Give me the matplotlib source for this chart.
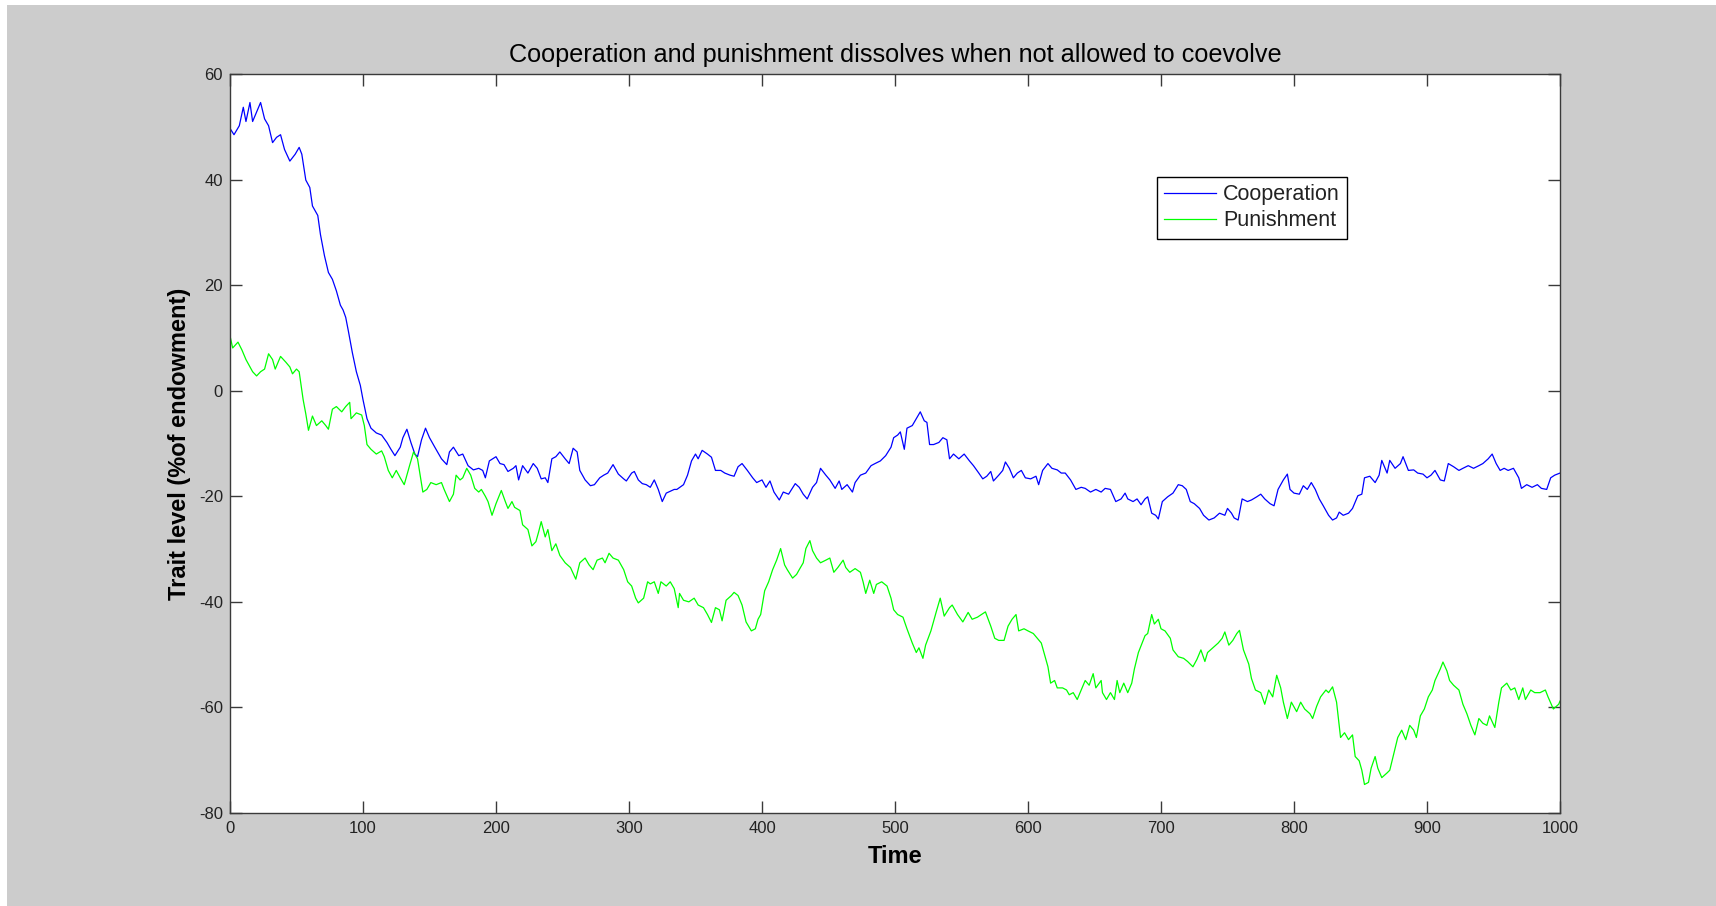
import matplotlib
matplotlib.use("Agg")
import matplotlib.pyplot as plt
from matplotlib.patches import Rectangle

plt.rcParams["axes.unicode_minus"] = False

# ---------------- data ----------------
coop_t = [0, 3, 7, 10, 12, 15, 17, 20, 23, 26, 29, 32, 35, 38, 41, 45, 49, 52, 54, 57,
          60, 62, 66, 68, 71, 74, 77, 80, 83, 85, 87, 89, 92, 95, 98, 100, 103, 106, 110, 114,
          118, 121, 124, 128, 130, 133, 136, 139, 141, 144, 147, 150, 154, 159, 163, 165,
          168, 172, 175, 179, 183, 187, 190, 192, 195, 200, 203, 206, 209, 213, 215, 217, 220,
          224, 228, 231, 234, 237, 239, 242, 245, 248, 252, 255, 258, 261, 263, 267, 271, 274,
          278, 281, 284, 288, 292, 296, 298, 302, 304, 307, 310, 313, 316, 319, 322, 325, 328,
          334, 336, 341, 344, 347, 350, 352, 355, 359, 362, 365, 369, 372, 376, 379, 382, 385,
          389, 393, 396, 400, 403, 406, 409, 413, 416, 420, 425, 428, 431, 434, 438, 441, 444,
          448, 451, 455, 458, 460, 464, 468, 470, 474, 478, 482, 485, 489, 493, 497, 499,
          502, 504, 507, 509, 513, 516, 519, 522, 524, 526, 529, 533, 536, 539, 541, 544, 548,
          552, 556, 559, 563, 566, 569, 572, 574, 578, 581, 583, 586, 589, 592, 595, 598, 602,
          606, 608, 611, 615, 618, 622, 625, 628, 632, 636, 640, 643, 647, 651, 655, 658, 662,
          666, 670, 673, 675, 679, 682, 685, 688, 690, 693, 696, 698, 701, 705, 709, 713, 716,
          719, 722, 725, 729, 732, 736, 740, 744, 748, 750, 753, 755, 758, 761, 765, 768, 772,
          775, 778, 782, 785, 788, 792, 795, 797, 800, 804, 807, 810, 813, 816, 819, 822, 826,
          829, 832, 834, 837, 841, 844, 848, 851, 853, 857, 861, 864, 866, 870, 872, 876, 880,
          882, 886, 890, 893, 897, 900, 903, 906, 910, 913, 916, 920, 924, 927, 931, 935, 939,
          942, 946, 949, 952, 955, 958, 961, 965, 969, 971, 975, 979, 983, 986, 990, 993, 996,
          1000]
coop_v = [49.7, 48.5, 50.2, 53.7, 51.0, 54.6, 51.0, 52.8, 54.6, 51.5, 50.2, 47.0, 48.0, 48.5,
          45.7, 43.5, 44.8, 46.1, 44.8, 39.9, 38.5, 35.0, 33.2, 29.6, 25.6, 22.4, 21.1, 18.9,
          16.2, 15.3, 13.9, 11.3, 7.2, 3.6, 1.0, -1.7, -5.3, -7.1, -8.0, -8.4, -9.8, -11.1,
          -12.3, -10.7, -8.9, -7.3, -9.8, -12.0, -12.5, -9.3, -7.1, -8.9, -10.7, -12.9, -14.0,
          -11.6,
          -10.7, -12.3, -12.0, -14.2, -15.0, -14.7, -15.1, -16.5, -13.3, -12.5, -13.8, -14.0,
          -15.3, -14.7, -14.2, -16.9, -14.2, -15.6, -13.8, -14.7, -16.7, -16.5, -17.4, -12.9,
          -12.5, -11.6, -12.9, -13.8, -10.9, -11.6, -15.1, -16.9, -18.0, -17.8, -16.5, -16.0,
          -15.6, -14.0, -15.8, -16.7, -17.1, -15.6, -15.3, -16.9, -17.6, -17.8, -18.3, -16.9,
          -18.7, -21.0, -19.4, -18.7,
          -18.7, -17.8, -16.0, -13.3, -12.0, -12.9, -11.3, -12.0, -12.6, -15.1, -15.1, -15.6,
          -16.0, -16.2, -14.4, -13.8, -15.1, -16.5, -17.4, -16.9, -18.3, -17.1, -19.2, -20.7,
          -19.2, -19.6, -17.6, -18.3, -19.6, -20.5, -18.3, -17.4, -14.7, -16.0, -16.9, -18.5,
          -17.1, -18.7, -17.8, -19.2, -17.4, -16.0, -15.6, -14.2, -13.8, -13.3, -12.3, -10.7,
          -8.9,
          -8.4, -7.8, -11.1, -7.1, -6.6, -5.3, -4.0, -5.7, -6.0, -10.2, -10.2, -9.8, -8.9,
          -9.3, -12.9, -12.0, -12.9, -12.0, -13.3, -14.2, -15.6, -16.7, -16.2, -15.3, -17.1,
          -16.0, -15.1, -13.5, -14.7, -16.5, -15.6, -15.1, -16.5, -16.7, -16.2, -17.8, -15.1,
          -13.8, -14.7, -15.0, -15.6, -15.6, -16.9, -18.7, -18.3, -18.5, -19.2, -18.7, -19.2,
          -18.5, -18.7, -21.0,
          -20.5, -19.4, -20.5, -21.0, -20.5, -21.6, -20.5, -20.1, -23.2, -23.6, -24.3, -21.0,
          -20.1, -19.4, -17.8, -18.0, -18.7, -21.0, -21.4, -22.3, -23.6, -24.5, -24.1, -23.2,
          -23.6, -22.3, -23.2, -24.1, -24.5, -20.5, -21.0, -20.7, -20.1, -19.6, -20.5, -21.4,
          -21.8, -18.7, -16.9, -15.8, -18.7, -19.4, -19.6, -18.0, -18.7, -17.4, -18.7, -20.5,
          -21.8, -23.6, -24.5, -24.1,
          -23.0, -23.6, -23.2, -22.3, -19.9, -19.6, -16.5, -16.2, -17.4, -16.0, -13.2, -15.6,
          -13.2, -14.7, -13.8, -12.5, -15.1, -15.0, -15.6, -15.8, -16.5, -16.0, -15.1, -16.9,
          -17.1, -13.8, -14.4, -15.1, -14.7, -14.2, -14.7, -14.2, -13.8, -12.9, -12.0, -13.8,
          -15.1, -14.7, -15.1, -14.7, -16.5, -18.5, -17.8, -18.3, -17.8, -18.5, -18.7, -16.5,
          -16.0, -15.6]

pun_t = [0, 2, 6, 9, 12, 15, 17, 20, 23, 26, 29, 32, 34, 38, 42, 45, 47, 50, 52, 55, 57, 59,
         62, 65, 69, 72, 74, 77, 80, 84, 87, 90, 91, 95, 99, 101, 103, 106, 110, 114, 116, 119,
         122, 125, 128, 131, 135, 138, 141, 143, 145, 148, 151, 155, 159, 161, 165,
         168, 170, 173, 175, 178, 181, 184, 187, 189, 192, 194, 197, 200, 204, 207, 209, 212,
         214, 218, 220, 224, 227, 230, 232, 234, 237, 239, 242, 245, 248, 252, 256, 260, 263,
         267, 270, 273, 276, 280, 282, 285, 288, 292, 296, 299, 302, 305, 307, 311, 314, 316,
         319, 322, 324, 328, 331, 334,
         337, 338, 341, 345, 349, 352, 356, 359, 362, 365, 368, 370, 373, 377, 379, 382, 385,
         388, 392, 395, 397, 399, 402, 405, 408, 411, 414, 417, 419, 423, 426, 428, 431, 433,
         436, 438, 441, 444, 448, 451, 454, 457, 461, 463, 466, 470, 474, 476, 478, 481, 484,
         486, 490, 494, 497, 499,
         502, 506, 509, 513, 516, 518, 521, 523, 527, 531, 534, 537, 541, 543, 547, 551, 555,
         558, 562, 565, 568, 572, 575, 578, 582, 585, 588, 591, 593, 597, 600, 604, 607, 610,
         612, 615, 617, 620, 622, 626, 629, 631, 634, 637, 640, 643, 646, 649, 651, 655, 656,
         659, 662, 665, 667,
         669, 672, 675, 678, 680, 683, 688, 690, 693, 695, 698, 700, 703, 707, 709, 713, 717,
         720, 724, 727, 730, 733, 735, 739, 743, 746, 748, 751, 754, 757, 759, 762, 766, 768,
         771, 775, 778, 781, 784, 787, 790, 792, 795, 798, 802, 805, 808, 812, 814, 817, 820,
         824, 826, 829, 832, 835,
         838, 841, 844, 846, 849, 851, 853, 856, 858, 861, 863, 866, 870, 872, 875, 878, 881,
         884, 887, 890, 892, 895, 898, 901, 904, 906, 910, 912, 915, 917, 920, 924, 927, 930,
         933, 936, 939, 942, 945, 947, 951, 954, 956, 960, 963, 966, 969, 972, 974, 978, 981,
         985, 989, 991, 995, 999, 1000]
pun_v = [10.4, 8.1, 9.2, 7.7, 5.9, 4.5, 3.6, 2.8, 3.6, 4.1, 7.0, 5.9, 4.1, 6.5, 5.4, 4.5, 3.2,
         4.1, 3.6, -1.7, -4.4, -7.5, -4.8, -6.6, -5.7, -6.6, -7.3, -3.5, -3.0, -4.0, -3.0, -2.2,
         -5.3, -4.2, -4.6, -6.6, -10.2, -11.1, -12.0, -11.4, -12.5, -15.1, -16.5, -15.1, -16.5,
         -17.8, -14.2, -11.6, -12.9, -16.0, -19.2, -18.7, -17.4, -17.8, -17.4, -18.7, -21.0,
         -19.6, -16.0, -16.9, -16.5, -14.7, -16.0, -18.5, -19.2, -18.7, -20.0, -21.0, -23.6,
         -21.4, -18.9, -21.0, -22.3, -21.0, -22.1, -22.7, -25.4, -26.3, -29.4, -28.6, -26.8,
         -24.8, -27.7, -26.3, -30.3, -29.0, -31.2, -32.6, -33.5, -35.7, -32.6, -31.7, -33.0,
         -33.9, -32.1, -31.7, -32.6, -30.8, -31.7, -32.1, -33.9, -36.2, -37.0, -39.3, -40.2,
         -39.3, -36.2, -36.6, -36.2, -38.4, -36.2, -37.0, -36.2, -37.5,
         -41.1, -38.4, -39.7, -40.0, -39.3, -40.6, -41.1, -42.4, -43.9, -41.1, -41.5, -43.6,
         -39.7, -38.8, -38.2, -38.8, -40.6, -43.8, -45.5, -45.1, -43.3, -42.4, -37.9, -36.2,
         -33.9, -32.1, -29.9, -33.0, -33.9, -35.5, -34.8, -33.9, -32.6, -29.9, -28.4, -30.3,
         -31.7, -32.6, -32.1, -31.7, -34.4, -33.5, -32.1, -33.5, -34.4, -33.7, -34.4, -36.2,
         -38.4, -35.9, -38.4, -36.7, -36.2, -37.0, -39.3, -41.5,
         -42.4, -42.9, -45.1, -47.8, -49.6, -48.7, -50.7, -48.2, -45.5, -41.9, -39.3, -42.7,
         -41.1, -40.6, -42.4, -43.8, -42.0, -43.3, -42.9, -42.4, -41.9, -44.6, -46.9, -47.3,
         -47.3, -44.6, -43.3, -42.4, -45.5, -45.1, -45.5, -46.0, -46.9, -47.8, -49.6, -52.3,
         -55.4, -54.9, -56.3, -56.3, -56.7, -57.6, -57.2, -58.5, -56.7, -54.9, -55.8, -53.6,
         -56.3, -54.9, -57.2, -58.5, -57.2, -58.5, -54.9,
         -57.2, -55.4, -57.2, -55.4, -52.7, -49.6, -46.4, -46.0, -42.4, -44.2, -43.3, -45.1,
         -45.5, -46.9, -49.1, -50.4, -50.7, -51.3, -52.3, -50.9, -49.1, -51.3, -49.6, -48.7,
         -47.8, -46.9, -45.7, -48.2, -47.3, -46.0, -45.4, -49.1, -51.8, -54.5, -56.7, -57.2,
         -59.4, -56.7, -58.0, -53.9, -56.3, -59.0, -62.1, -59.0, -60.8, -59.0, -60.3, -61.2,
         -62.1, -59.8, -58.0, -56.7, -57.2, -56.1, -59.0, -65.7,
         -64.8, -66.1, -65.2, -69.3, -70.1, -71.9, -74.6, -74.2, -71.5, -69.3, -71.5, -73.3,
         -72.4, -71.9, -68.8, -65.7, -64.3, -66.1, -63.4, -64.3, -65.7, -61.6, -60.3, -58.0,
         -56.7, -54.9, -52.7, -51.4, -53.1, -54.9, -55.8, -56.7, -59.4, -61.2, -63.4, -65.2,
         -62.1, -63.0, -63.4, -61.6, -63.8, -59.0, -56.3, -55.4, -56.7, -56.3, -58.5, -56.3,
         -58.5, -56.7, -57.2, -57.2, -56.7, -58.0, -60.3, -59.4, -58.8]

x_ticks = list(range(0, 1001, 100))
y_ticks = list(range(-80, 61, 20))
series_labels = ["Cooperation", "Punishment"]

# ---------------- figure ----------------
W, H = 1716, 906
fig = plt.figure(figsize=(W / 100, H / 100), dpi=100, facecolor="white")
fig.patches.append(Rectangle((7 / W, 0), 1 - 7 / W, (H - 5) / H,
                             transform=fig.transFigure, facecolor="#cccccc",
                             edgecolor="none", zorder=-10))

ax = fig.add_axes([230 / W, 1 - 813 / H, (1560 - 230) / W, (813 - 74) / H])
ax.set_facecolor("white")

ax.plot(coop_t, coop_v, color="#0000ff", lw=0.9, label=series_labels[0])
ax.plot(pun_t, pun_v, color="#00ff00", lw=0.9, label=series_labels[1])

ax.set_xlim(0, 1000)
ax.set_ylim(-80, 60)
ax.set_xticks(x_ticks)
ax.set_yticks(y_ticks)

font = "Liberation Sans"
for s in ax.spines.values():
    s.set_color("#3a3a3a")
    s.set_linewidth(1.0)
ax.tick_params(direction="in", length=8.6, width=1.0, color="#3a3a3a",
               top=True, right=True, labelsize=12, labelcolor="#222222")
ax.tick_params(axis="x", pad=6)
ax.tick_params(axis="y", pad=5)
for lab in ax.get_xticklabels() + ax.get_yticklabels():
    lab.set_fontfamily(font)

ax.set_title("Cooperation and punishment dissolves when not allowed to coevolve",
             fontsize=18.2, fontfamily=font, pad=9, color="black")
ax.set_xlabel("Time", fontsize=17, fontweight="bold", fontfamily=font)
ax.set_ylabel("Trait level (%of endowment)", fontsize=17, fontweight="bold", fontfamily=font)
ax.xaxis.set_label_coords(0.5, -0.043)
ax.yaxis.set_label_coords(-0.029, 0.5)

leg = ax.legend(loc="upper left", bbox_to_anchor=((1157 - 230) / 1330, (813 - 177) / 739),
                borderaxespad=0, fancybox=False, framealpha=1, edgecolor="black",
                prop={"family": font, "size": 15.5}, handlelength=2.4, handletextpad=0.35,
                borderpad=0.33, labelspacing=0.25)
leg.get_frame().set_linewidth(1.0)
for t in leg.get_texts():
    t.set_color("#222222")

fig.savefig("out.png", dpi=100, facecolor=fig.get_facecolor())
